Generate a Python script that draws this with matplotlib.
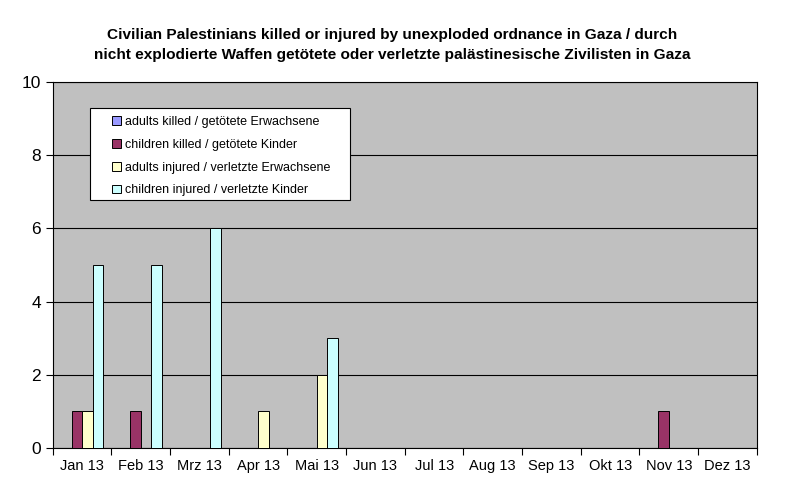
import numpy as np
import matplotlib.pyplot as plt
from matplotlib.patches import Rectangle

plt.rcParams['font.family'] = ['Liberation Sans', 'DejaVu Sans']

# Daten
months = ['Jan 13', 'Feb 13', 'Mrz 13', 'Apr 13', 'Mai 13', 'Jun 13',
          'Jul 13', 'Aug 13', 'Sep 13', 'Okt 13', 'Nov 13', 'Dez 13']
adults_killed = [0, 0, 0, 0, 0, 0, 0, 0, 0, 0, 0, 0]
children_killed = [1, 1, 0, 0, 0, 0, 0, 0, 0, 0, 1, 0]
adults_injured = [1, 0, 0, 1, 2, 0, 0, 0, 0, 0, 0, 0]
children_injured = [5, 5, 6, 0, 3, 0, 0, 0, 0, 0, 0, 0]

series = [
    (adults_killed, 'adults killed / getötete Erwachsene', '#9999FF'),
    (children_killed, 'children killed / getötete Kinder', '#993366'),
    (adults_injured, 'adults injured / verletzte Erwachsene', '#FFFFCC'),
    (children_injured, 'children injured / verletzte Kinder', '#CCFFFF'),
]

fig = plt.figure(figsize=(8, 4.97), dpi=100)
ax = fig.add_axes([0.066, 0.0986, 0.88, 0.7364])
ax.set_facecolor('#C0C0C0')

x = np.arange(len(months))
w = 0.18
for i, (vals, label, col) in enumerate(series):
    vals = np.array(vals, dtype=float)
    h = np.where(vals > 0, vals, np.nan)
    ax.bar(x + (i - 1.5) * w, h, width=w, color=col, edgecolor='black',
           linewidth=0.7, label=label, zorder=3)

ax.set_xlim(-0.5, len(months) - 0.5)
ax.set_ylim(0, 10)
ax.set_yticks([0, 2, 4, 6, 8, 10])
ax.yaxis.grid(True, color='black', linewidth=0.8, zorder=0)
ax.set_axisbelow(True)

ax.set_xticks(x)
ax.set_xticklabels(months, fontsize=10.5)
ax.set_xticks(np.arange(-0.5, len(months)), minor=True)
ax.tick_params(axis='x', which='major', length=0, pad=8)
ax.tick_params(axis='x', which='minor', length=5, width=0.8)
ax.tick_params(axis='y', labelsize=12.5, length=5, width=0.8)

for s in ax.spines.values():
    s.set_linewidth(0.8)
    s.set_color('black')

# Legendenrahmen separat, damit er breiter als der Text ist
box = Rectangle((0.0526, 0.678), 0.3693, 0.251, transform=ax.transAxes,
                facecolor='white', edgecolor='black', linewidth=0.8, zorder=5)
ax.add_patch(box)
leg = ax.legend(loc='upper left', bbox_to_anchor=(0.084, 0.907),
                borderaxespad=0, borderpad=0, fontsize=9, frameon=False,
                handlelength=0.7, handleheight=0.7, handletextpad=0.35,
                labelspacing=0.86)
leg.set_zorder(6)

fig.text(0.49, 0.909,
         'Civilian Palestinians killed or injured by unexploded ordnance in Gaza / durch\n'
         'nicht explodierte Waffen getötete oder verletzte palästinesische Zivilisten in Gaza',
         ha='center', va='center', fontsize=11.1, fontweight='bold', linespacing=1.5)

fig.savefig('out.png', dpi=100)
